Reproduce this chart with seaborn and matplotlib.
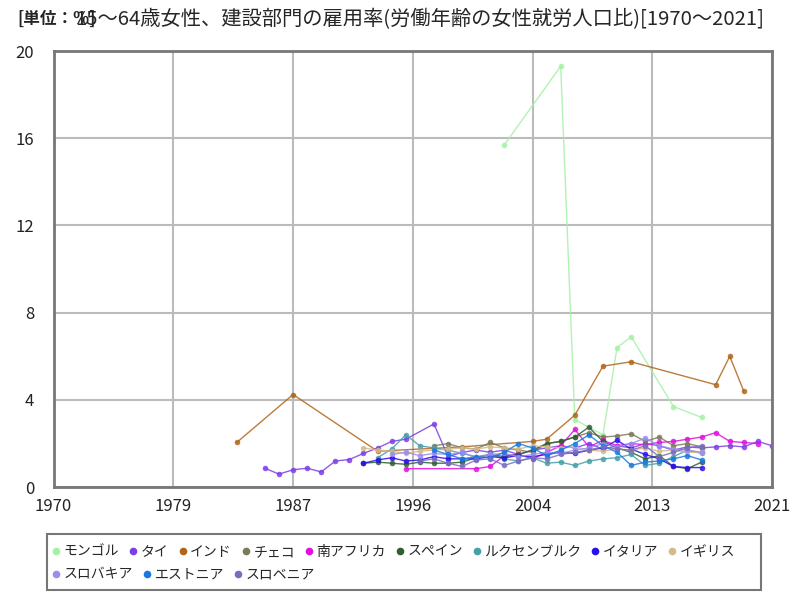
import pandas as pd
import matplotlib
matplotlib.use("Agg")
import matplotlib.pyplot as plt
from matplotlib.lines import Line2D
from matplotlib.patches import Rectangle
import seaborn as sns

# =====================================================
# DATA
# =====================================================

countries = ["モンゴル", "タイ", "インド", "チェコ", "南アフリカ", "スペイン",
             "ルクセンブルク", "イタリア", "イギリス", "スロバキア", "エストニア", "スロベニア"]

colors = ["#a6f0a6", "#7b3fe4", "#b0651a", "#7a7a58", "#e010e0", "#2f5f2f",
          "#44a0a8", "#2a10e8", "#d4b98a", "#9a8cf0", "#1a78e0", "#7a6cc0"]

mongolia_years = [2002, 2006, 2007, 2009, 2010, 2011, 2014, 2016]
mongolia_vals = [15.7, 19.3, 3.1, 2.4, 6.4, 6.9, 3.7, 3.2]

thai_years = [1985, 1986, 1987, 1988, 1989, 1990, 1991, 1992, 1993, 1994, 1995,
              1997, 1998, 1999, 2000, 2001, 2002, 2003, 2004, 2005, 2006, 2007,
              2008, 2009, 2010, 2011, 2012, 2013, 2014, 2015, 2016, 2017, 2018,
              2019, 2020, 2021]
thai_vals = [0.87, 0.6, 0.8, 0.87, 0.7, 1.2, 1.27, 1.55, 1.8, 2.1, 2.2,
             2.9, 1.4, 1.6, 1.7, 1.6, 1.7, 1.5, 1.7, 1.8, 1.9, 1.8,
             2.0, 1.75, 1.9, 1.8, 2.0, 1.9, 1.7, 1.85, 1.8, 1.85, 1.9,
             1.85, 2.1, 1.9]

india_years = [1983, 1987, 1993, 1999, 2004, 2005, 2007, 2009, 2011, 2017, 2018, 2019]
india_vals = [2.05, 4.25, 1.65, 1.85, 2.1, 2.2, 3.3, 5.55, 5.75, 4.7, 6.0, 4.4]

czech_years = list(range(1997, 2017))
czech_vals = [1.9, 2.0, 1.8, 1.75, 2.05, 1.8, 1.7, 1.6, 2.0, 2.1, 2.3, 2.5,
              2.3, 2.35, 2.45, 2.1, 2.3, 1.9, 2.0, 1.85]

safrica_years = [1995, 2000, 2001, 2002, 2003, 2004, 2005, 2006, 2007, 2008, 2009,
                 2010, 2011, 2012, 2013, 2014, 2015, 2016, 2017, 2018, 2019, 2020]
safrica_vals = [0.85, 0.85, 0.95, 1.45, 1.5, 1.3, 1.6, 1.9, 2.65, 1.85, 2.15,
                1.9, 2.0, 1.95, 2.05, 2.1, 2.2, 2.3, 2.5, 2.1, 2.05, 2.0]

spain_years = list(range(1992, 2017))
spain_vals = [1.1, 1.15, 1.1, 1.05, 1.15, 1.1, 1.1, 1.15, 1.35, 1.5, 1.4, 1.5,
              1.7, 2.0, 2.1, 2.3, 2.75, 2.1, 1.8, 1.6, 1.3, 1.45, 0.95, 0.85, 1.15]

lux_years = list(range(1993, 2017))
lux_vals = [1.35, 1.75, 2.4, 1.9, 1.8, 1.7, 1.55, 1.4, 1.5, 1.3, 1.2, 1.35,
            1.1, 1.15, 1.0, 1.2, 1.3, 1.35, 1.5, 1.0, 1.1, 1.4, 1.7, 1.55]

italy_years = list(range(1992, 2017))
italy_vals = [1.1, 1.25, 1.35, 1.2, 1.25, 1.4, 1.3, 1.3, 1.3, 1.4, 1.35, 1.45,
              1.4, 1.5, 1.6, 1.55, 1.7, 1.8, 2.15, 1.75, 1.5, 1.3, 0.95, 0.9, 0.9]

uk_years = list(range(1992, 2017))
uk_vals = [1.8, 1.7, 1.65, 1.55, 1.65, 1.7, 1.75, 1.8, 1.75, 1.85, 1.8, 1.75,
           1.9, 1.85, 1.8, 1.85, 1.7, 1.65, 1.75, 1.7, 1.8, 1.65, 1.7, 1.6, 1.6]

slovakia_years = list(range(1994, 2017))
slovakia_vals = [1.5, 1.6, 1.45, 1.55, 1.5, 1.6, 1.35, 1.5, 1.55, 1.4, 1.5, 1.6,
                 1.55, 1.7, 1.8, 2.0, 1.85, 2.0, 2.25, 1.9, 1.75, 1.7, 1.6]

estonia_years = list(range(1997, 2017))
estonia_vals = [1.7, 1.5, 1.3, 1.4, 1.35, 1.6, 2.0, 1.8, 1.45, 1.7, 2.0, 2.4,
                1.9, 1.6, 1.0, 1.15, 1.2, 1.3, 1.45, 1.25]

slovenia_years = list(range(1996, 2017))
slovenia_vals = [1.2, 1.3, 1.1, 0.95, 1.25, 1.3, 1.0, 1.2, 1.35, 1.3, 1.5, 1.6,
                 1.7, 1.85, 1.75, 1.7, 1.9, 1.4, 1.6, 1.8, 1.9]

series = [
    (mongolia_years, mongolia_vals),
    (thai_years, thai_vals),
    (india_years, india_vals),
    (czech_years, czech_vals),
    (safrica_years, safrica_vals),
    (spain_years, spain_vals),
    (lux_years, lux_vals),
    (italy_years, italy_vals),
    (uk_years, uk_vals),
    (slovakia_years, slovakia_vals),
    (estonia_years, estonia_vals),
    (slovenia_years, slovenia_vals),
]

xtick_pos = [1970, 1978.5, 1987, 1995.5, 2004, 2012.5, 2021]
xtick_labels = ["1970", "1979", "1987", "1996", "2004", "2013", "2021"]
ytick_pos = [0, 4, 8, 12, 16, 20]

# =====================================================
# LONG TABLE FOR SEABORN
# =====================================================

rows = []
for name, (yrs, vals) in zip(countries, series):
    for y, v in zip(yrs, vals):
        rows.append({"year": y, "value": v, "country": name})
df = pd.DataFrame(rows)

palette = dict(zip(countries, colors))

# =====================================================
# PLOT
# =====================================================

sns.set_style("white")
plt.rcParams["font.family"] = ["Noto Sans CJK JP", "DejaVu Sans"]

fig = plt.figure(figsize=(8, 6), dpi=100)
ax = fig.add_axes([0.067, 0.188, 0.898, 0.727])

sns.lineplot(
    data=df,
    x="year",
    y="value",
    hue="country",
    hue_order=countries,
    palette=palette,
    marker="o",
    markersize=4,
    markeredgewidth=0,
    linewidth=1,
    alpha=0.85,
    estimator=None,
    sort=True,
    legend=False,
    ax=ax,
)

ax.set_xlim(1970, 2021)
ax.set_ylim(0, 20)
ax.set_xticks(xtick_pos)
ax.set_xticklabels(xtick_labels)
ax.set_yticks(ytick_pos)
ax.tick_params(axis="both", length=0, labelsize=12, colors="#222222")
ax.tick_params(axis="x", pad=8)
ax.tick_params(axis="y", pad=14)
ax.set_xlabel("")
ax.set_ylabel("")
ax.grid(True, color="#bbbbbb", linewidth=1.5)
ax.set_axisbelow(True)
for sp in ax.spines.values():
    sp.set_color("#777777")
    sp.set_linewidth(2)

# legend: two flowing rows inside one box
handles = [Line2D([], [], linestyle="none", marker="o", markersize=5.5,
                  markeredgewidth=0, color=c) for c in colors]

legend_kw = dict(
    loc="upper left",
    bbox_transform=fig.transFigure,
    frameon=False,
    fontsize=10,
    handlelength=0.5,
    handletextpad=0.3,
    columnspacing=0.75,
    borderpad=0,
    borderaxespad=0,
)
leg1 = ax.legend(handles[:9], countries[:9], ncol=9,
                 bbox_to_anchor=(0.066, 0.092), **legend_kw)
ax.add_artist(leg1)
ax.legend(handles[9:], countries[9:], ncol=3,
          bbox_to_anchor=(0.066, 0.054), **legend_kw)

fig.patches.append(Rectangle((0.059, 0.017), 0.892, 0.093,
                             transform=fig.transFigure, fill=False,
                             edgecolor="#777777", linewidth=1.5))

fig.text(0.022, 0.968, "[単位：%]", fontsize=12, va="center", fontweight="bold")
fig.text(0.094, 0.968, "15～64歳女性、建設部門の雇用率(労働年齢の女性就労人口比)[1970～2021]",
         fontsize=14.6, va="center")

fig.savefig("out.png", dpi=100)
